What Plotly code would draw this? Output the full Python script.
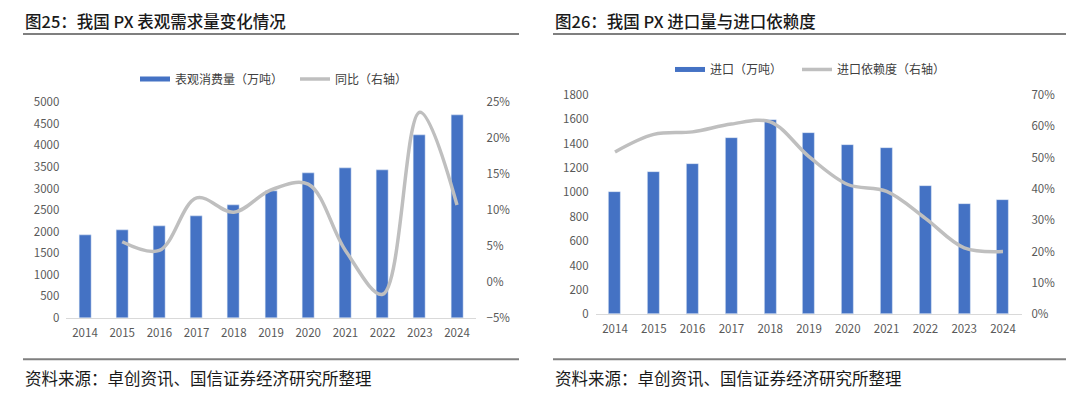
import plotly.graph_objects as go

W, H = 1080, 398

years = ["2014", "2015", "2016", "2017", "2018", "2019", "2020", "2021", "2022", "2023", "2024"]

# Left chart: apparent consumption (10k t) and YoY
consumption = [1926, 2037, 2126, 2370, 2607, 2948, 3348, 3481, 3430, 4237, 4689]
yoy = [None, 0.056, 0.044, 0.117, 0.097, 0.128, 0.136, 0.044, -0.017, 0.236, 0.107]

# Right chart: imports (10k t) and import dependence
imports = [1000, 1164, 1236, 1444, 1592, 1491, 1387, 1364, 1057, 909, 935]
dependence = [0.518, 0.574, 0.582, 0.607, 0.614, 0.503, 0.414, 0.392, 0.306, 0.212, 0.200]

title_left = "图25：我国 PX 表观需求量变化情况"
title_right = "图26：我国 PX 进口量与进口依赖度"
source_text = "资料来源：卓创资讯、国信证券经济研究所整理"

BLUE = "#4472C4"
GREY = "#BFBFBF"
TICK = "#595959"
FONT = "Noto Sans CJK SC"


def px_x(p):
    return p / W


def px_y(p):
    return 1 - p / H


fig = go.Figure()

# ---- left chart ----
fig.add_trace(go.Bar(x=years, y=consumption, marker_color=BLUE, width=0.32,
                     xaxis="x", yaxis="y", showlegend=False, hoverinfo="skip"))
fig.add_trace(go.Scatter(x=years, y=yoy, mode="lines", line=dict(color=GREY, width=3.5, shape="spline", smoothing=1.0),
                         xaxis="x", yaxis="y2", showlegend=False, connectgaps=False))
fig.add_trace(go.Scatter(x=[None], y=[None], mode="lines", line=dict(color=BLUE, width=5),
                         name="表观消费量（万吨）", legend="legend", xaxis="x", yaxis="y"))
fig.add_trace(go.Scatter(x=[None], y=[None], mode="lines", line=dict(color=GREY, width=3.5),
                         name="同比（右轴）", legend="legend3", xaxis="x", yaxis="y"))

# ---- right chart ----
fig.add_trace(go.Bar(x=years, y=imports, marker_color=BLUE, width=0.31,
                     xaxis="x2", yaxis="y3", showlegend=False, hoverinfo="skip"))
fig.add_trace(go.Scatter(x=years, y=dependence, mode="lines", line=dict(color=GREY, width=3.5, shape="spline", smoothing=1.0),
                         xaxis="x2", yaxis="y4", showlegend=False))
fig.add_trace(go.Scatter(x=[None], y=[None], mode="lines", line=dict(color=BLUE, width=5),
                         name="进口（万吨）", legend="legend2", xaxis="x2", yaxis="y3"))
fig.add_trace(go.Scatter(x=[None], y=[None], mode="lines", line=dict(color=GREY, width=3.5),
                         name="进口依赖度（右轴）", legend="legend4", xaxis="x2", yaxis="y3"))

tickfont = dict(family=FONT, size=11.5, color=TICK)

xcommon = dict(type="category", showgrid=False, zeroline=False, showline=True, linecolor="#D9D9D9",
               linewidth=1, ticks="", tickfont=tickfont, fixedrange=True, ticklabelstandoff=4)
ycommon = dict(showgrid=False, zeroline=False, showline=False, ticks="", tickfont=tickfont, fixedrange=True)

lx0, lx1 = px_x(66.4), px_x(475.6)
ly0, ly1 = px_y(322), px_y(97)
rx0, rx1 = px_x(595.6), px_x(1022.4)
ry0, ry1 = px_y(318), px_y(89.5)


def legend_at(xp, yp):
    return dict(orientation="h", x=px_x(xp), y=px_y(yp), xanchor="left", yanchor="middle",
                font=dict(family=FONT, size=12, color="#404040"), bgcolor="rgba(0,0,0,0)",
                itemwidth=30)


fig.update_layout(
    width=W, height=H,
    margin=dict(l=0, r=0, t=0, b=0),
    paper_bgcolor="white", plot_bgcolor="white",
    font=dict(family=FONT, color="#404040"),
    bargap=0,
    xaxis=dict(domain=[lx0, lx1], anchor="y", **xcommon),
    yaxis=dict(domain=[ly0, ly1], anchor="x", range=[0, 5000], dtick=500, ticklabelstandoff=6, **ycommon),
    yaxis2=dict(domain=[ly0, ly1], anchor="x", overlaying="y", side="right", range=[-0.05, 0.25], dtick=0.05,
                tickformat=".0%", ticklabelstandoff=10, **ycommon),
    xaxis2=dict(domain=[rx0, rx1], anchor="y3", **xcommon),
    yaxis3=dict(domain=[ry0, ry1], anchor="x2", range=[0, 1800], dtick=200, ticklabelstandoff=6, **ycommon),
    yaxis4=dict(domain=[ry0, ry1], anchor="x2", overlaying="y3", side="right", range=[0, 0.7], dtick=0.1,
                tickformat=".0%", ticklabelstandoff=8, **ycommon),
    legend=legend_at(135, 73),
    legend3=legend_at(295, 73),
    legend2=legend_at(670, 63),
    legend4=legend_at(797, 63),
    showlegend=True,
)

# Titles, rules and source notes
annotations = []
shapes = []
for x0, x1, title in [(23, 519, title_left), (553, 1066, title_right)]:
    annotations.append(dict(text=title, x=px_x(x0), y=px_y(12), xref="paper", yref="paper",
                            xanchor="left", yanchor="middle", showarrow=False,
                            font=dict(family=FONT, size=16.5, color="#1a1a1a", weight=500)))
    annotations.append(dict(text=source_text, x=px_x(x0), y=px_y(384), xref="paper", yref="paper",
                            xanchor="left", yanchor="middle", showarrow=False,
                            font=dict(family=FONT, size=16.5, color="#1a1a1a")))
    shapes.append(dict(type="line", xref="paper", yref="paper", x0=px_x(x0), x1=px_x(x1),
                       y0=px_y(26), y1=px_y(26), line=dict(color="#7F7F7F", width=2)))
    shapes.append(dict(type="line", xref="paper", yref="paper", x0=px_x(x0), x1=px_x(x1),
                       y0=px_y(365), y1=px_y(365), line=dict(color="#7F7F7F", width=2)))

fig.update_layout(annotations=annotations, shapes=shapes)

fig.write_html("out.html", config={"displayModeBar": False},
               post_script="document.body.style.margin='0';document.body.style.padding='0';"
                           "document.documentElement.style.overflow='hidden';")
